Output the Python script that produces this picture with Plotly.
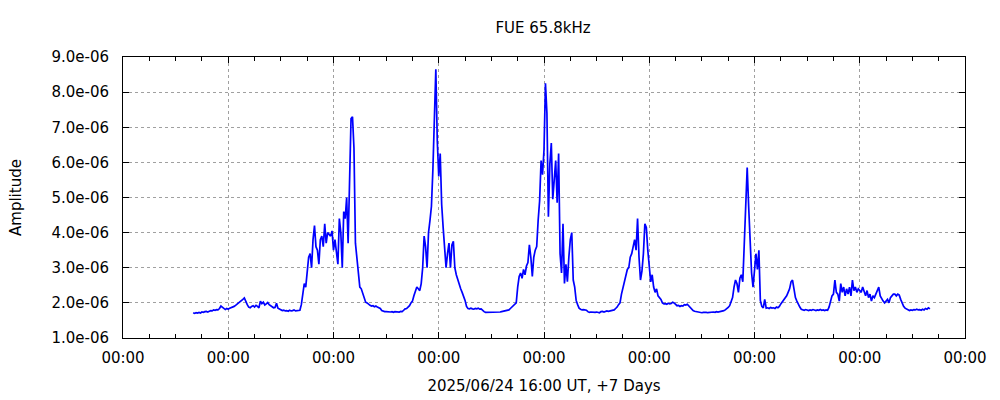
import pandas as pd
import plotly.graph_objects as go

# Amplitude in units of 1e-6, sampled every 20 minutes from 2025-06-24 16:00 UT (3 values per hour)
amp_micro = [
    1.72, 1.70, 1.72, 1.71, 1.73, 1.71, 1.74, 1.73, 1.75, 1.76, 1.74, 1.76,   # h0-3
    1.78, 1.77, 1.80, 1.79, 1.81, 1.80, 1.84, 1.91, 1.87, 1.83, 1.81, 1.84,   # h4-7
    1.82, 1.85, 1.86, 1.88, 1.90, 1.93, 1.96, 2.00, 2.03, 2.06, 2.10, 2.14,   # h8-11
    2.02, 1.95, 1.88, 1.86, 1.90, 1.92, 1.88, 1.93, 1.90, 1.86, 2.05, 1.98,   # h12-15
    2.02, 1.94, 1.97, 2.01, 1.95, 1.92, 1.88, 1.86, 1.87, 1.99, 1.85, 1.83,   # h16-19
    1.80, 1.78, 1.79, 1.77, 1.78, 1.76, 1.79, 1.77, 1.78, 1.80, 1.77, 1.78,   # h20-23
    1.77, 1.79, 1.95, 2.35, 2.55, 2.45, 2.90, 3.30, 3.40, 3.00, 3.80, 4.20,   # h24-27
    3.60, 3.50, 3.10, 3.80, 3.90, 3.60, 4.25, 3.70, 4.00, 3.95, 3.90, 4.05,   # h28-31
    3.50, 3.80, 3.40, 3.10, 4.40, 4.00, 3.00, 4.60, 4.40, 5.00, 3.70, 5.70,   # h32-35
    7.25, 7.30, 6.40, 3.70, 3.20, 2.85, 2.45, 2.40, 2.25, 2.15, 2.02, 2.00,   # h36-39
    1.96, 1.93, 1.91, 1.92, 1.89, 1.91, 1.88, 1.86, 1.84, 1.78, 1.76, 1.75,   # h40-43
    1.75, 1.74, 1.75, 1.74, 1.75, 1.73, 1.75, 1.74, 1.75, 1.74, 1.76, 1.75,   # h44-47
    1.79, 1.83, 1.84, 1.87, 1.92, 2.00, 2.05, 2.20, 2.35, 2.45, 2.40, 2.35,   # h48-51
    2.55, 3.00, 3.90, 3.60, 3.00, 4.00, 4.35, 4.75, 5.80, 7.00, 8.65, 6.60,   # h52-55
    5.60, 6.25, 4.80, 4.15, 3.40, 3.00, 3.40, 3.70, 3.00, 3.65, 3.75, 3.00,   # h56-59
    2.80, 2.65, 2.50, 2.40, 2.30, 2.20, 2.07, 1.90, 1.84, 1.83, 1.85, 1.83,   # h60-63
    1.82, 1.84, 1.83, 1.85, 1.82, 1.83, 1.78, 1.75, 1.73, 1.73, 1.74, 1.72,   # h64-67
    1.73, 1.72, 1.74, 1.73, 1.72, 1.73, 1.74, 1.75, 1.76, 1.77, 1.78, 1.79,   # h68-71
    1.80, 1.84, 1.88, 1.92, 1.96, 2.00, 2.45, 2.75, 2.85, 2.70, 2.95, 2.80,   # h72-75
    3.05, 3.15, 3.65, 3.30, 2.75, 3.30, 3.50, 3.60, 4.35, 4.90, 6.05, 5.65,   # h76-79
    6.35, 8.25, 7.40, 4.45, 5.95, 6.55, 4.95, 5.50, 6.05, 4.85, 6.25, 3.40,   # h80-83
    2.85, 4.25, 2.55, 3.10, 2.60, 3.30, 3.80, 4.00, 2.65, 2.45, 2.07, 1.95,   # h84-87
    1.85, 1.82, 1.80, 1.81, 1.80, 1.79, 1.75, 1.73, 1.74, 1.73, 1.72, 1.73,   # h88-91
    1.74, 1.73, 1.72, 1.75, 1.76, 1.74, 1.76, 1.77, 1.76, 1.77, 1.76, 1.78,   # h92-95
    1.80, 1.84, 1.88, 1.95, 2.00, 2.25, 2.45, 2.55, 2.75, 2.95, 3.00, 3.30,   # h96-99
    3.40, 3.60, 3.80, 3.50, 4.40, 3.30, 2.65, 2.90, 3.40, 4.25, 4.15, 3.50,   # h100-103
    3.00, 2.60, 2.80, 2.45, 2.30, 2.40, 2.20, 2.15, 2.10, 2.00, 1.97, 1.98,   # h104-107
    1.96, 1.99, 1.97, 1.98, 2.02, 2.00, 1.95, 1.92, 1.93, 1.90, 1.92, 1.91,   # h108-111
    1.95, 1.94, 1.96, 1.92, 1.85, 1.82, 1.78, 1.76, 1.75, 1.73, 1.74, 1.73,   # h112-115
    1.72, 1.73, 1.74, 1.73, 1.72, 1.73, 1.74, 1.73, 1.74, 1.73, 1.75, 1.74,   # h116-119
    1.75, 1.74, 1.76, 1.78, 1.80, 1.83, 1.87, 1.92, 2.02, 2.15, 2.45, 2.65,   # h120-123
    2.55, 2.30, 2.70, 2.80, 2.60, 3.80, 4.60, 5.85, 4.75, 3.70, 2.85, 2.45,   # h124-127
    2.90, 3.40, 2.95, 3.50, 2.07, 1.90, 1.86, 2.10, 1.85, 1.86, 1.84, 1.87,   # h128-131
    1.85, 1.86, 1.84, 1.88, 1.86, 1.90, 1.97, 2.02, 2.10, 2.15, 2.20, 2.30,   # h132-135
    2.40, 2.60, 2.65, 2.40, 2.15, 2.05, 1.95, 1.88, 1.82, 1.80, 1.79, 1.81,   # h136-139
    1.80, 1.78, 1.80, 1.79, 1.81, 1.80, 1.78, 1.80, 1.79, 1.81, 1.79, 1.80,   # h140-143
    1.78, 1.80, 1.79, 1.88, 2.05, 2.20, 2.25, 2.65, 2.30, 2.25, 2.05, 2.55,   # h144-147
    2.30, 2.45, 2.20, 2.40, 2.25, 2.45, 2.20, 2.65, 2.35, 2.45, 2.30, 2.40,   # h148-151
    2.35, 2.30, 2.45, 2.30, 2.20, 2.35, 2.15, 2.25, 2.05, 2.20, 2.15, 2.25,   # h152-155
    2.35, 2.45, 2.20, 2.10, 2.05, 2.00, 2.05, 2.10, 2.00, 2.15, 2.20, 2.25,   # h156-159
    2.25, 2.20, 2.25, 2.22, 2.10, 1.98, 1.90, 1.85, 1.82, 1.80, 1.78, 1.80,   # h160-163
    1.79, 1.81, 1.80, 1.82, 1.80, 1.81, 1.79, 1.82, 1.80, 1.84, 1.82, 1.86,   # h164-167
    1.83,                                                                     # h168
]

start_time = "2025-06-24 16:00"
sample_step = "20min"
axis_start = "2025-06-24 00:00"
axis_end = "2025-07-02 00:00"

y_tick_vals = [1e-6, 2e-6, 3e-6, 4e-6, 5e-6, 6e-6, 7e-6, 8e-6, 9e-6]
y_tick_text = [f"{v:.1e}" for v in y_tick_vals]

title_text = "FUE 65.8kHz"
x_title = "2025/06/24 16:00 UT, +7 Days"
y_title = "Amplitude"

times = pd.date_range(start=start_time, periods=len(amp_micro), freq=sample_step)
amps = [v * 1e-6 for v in amp_micro]

font_family = "DejaVu Sans, Verdana, sans-serif"

fig = go.Figure()
fig.add_trace(go.Scatter(
    x=times, y=amps, mode="lines",
    line=dict(color="#0000ff", width=1.7),
    showlegend=False, hoverinfo="skip",
))

fig.update_layout(
    width=1000, height=400,
    margin=dict(l=123, r=35, t=57, b=62, pad=0, autoexpand=False),
    paper_bgcolor="white", plot_bgcolor="white",
    font=dict(family=font_family, size=15, color="black"),
    title=dict(text=title_text, x=543 / 1000, xanchor="center", y=1 - 28 / 400, yanchor="middle",
               yref="container", font=dict(size=15)),
)

fig.update_xaxes(
    type="date",
    range=[axis_start, axis_end],
    tickmode="linear", tick0=axis_start, dtick=86400000,
    tickformat="%H:%M",
    ticks="inside", ticklen=6, tickcolor="black", tickwidth=1,
    showline=True, linecolor="black", linewidth=1, mirror="ticks",
    showgrid=True, gridcolor="#a0a0a0", griddash="dot", gridwidth=1,
    minor=dict(dtick=6 * 3600 * 1000, ticks="inside", ticklen=4, tickcolor="black", showgrid=False),
    ticklabelstandoff=6,
    zeroline=False, automargin=False,
    title=dict(text=x_title, standoff=14, font=dict(size=15)),
)

fig.update_yaxes(
    range=[1e-6, 9e-6],
    tickmode="array", tickvals=y_tick_vals, ticktext=y_tick_text,
    ticks="inside", ticklen=6, tickcolor="black", tickwidth=1,
    showline=True, linecolor="black", linewidth=1, mirror="ticks",
    showgrid=True, gridcolor="#a0a0a0", griddash="dot", gridwidth=1,
    ticklabelstandoff=10,
    zeroline=False, automargin=False,
    title=dict(text=y_title, standoff=26, font=dict(size=15)),
)

fig.write_html(
    "out.html",
    config={"displayModeBar": False, "staticPlot": True},
    post_script="document.body.style.margin='0';document.body.style.overflow='hidden';",
)
